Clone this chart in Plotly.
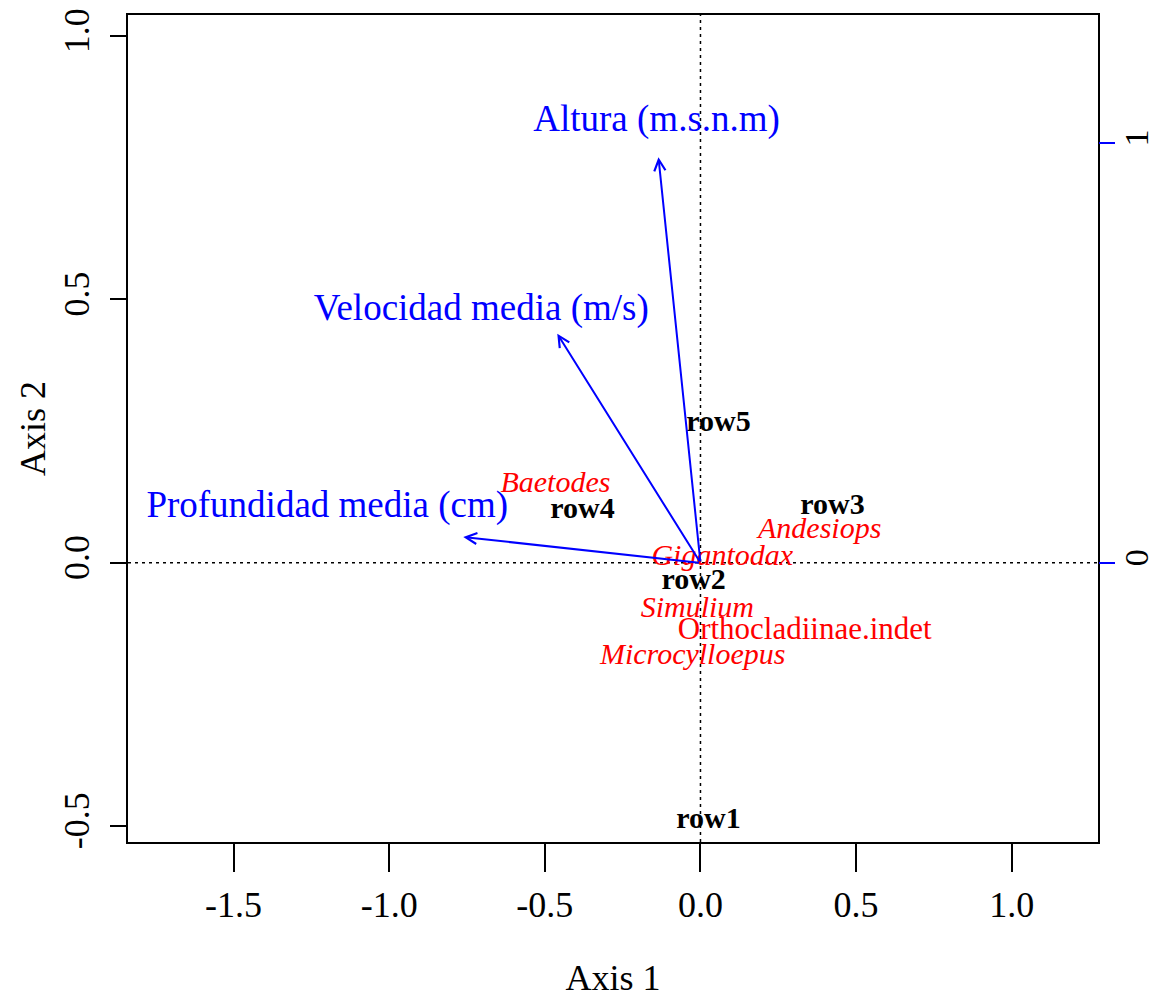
import plotly.graph_objects as go

# ---- data ----
site_names = ["row1", "row2", "row3", "row4", "row5"]
site_x = [0.026, -0.022, 0.424, -0.379, 0.058]
site_y = [-0.490, -0.036, 0.106, 0.099, 0.264]

species_names = ["Baetodes", "Andesiops", "Gigantodax", "Simulium",
                 "Orthocladiinae.indet", "Microcylloepus"]
species_x = [-0.466, 0.383, 0.070, -0.010, 0.335, -0.025]
species_y = [0.148, 0.061, 0.010, -0.088, -0.129, -0.177]
species_italic = [True, True, True, True, False, True]

env_names = ["Altura (m.s.n.m)", "Velocidad media (m/s)", "Profundidad media (cm)"]
env_x = [-0.135, -0.460, -0.762]
env_y = [0.770, 0.435, 0.049]
env_label_x = [-0.141, -0.704, -1.199]
env_label_y = [0.838, 0.479, 0.105]

x_ticks = [-1.5, -1.0, -0.5, 0.0, 0.5, 1.0]
y_ticks = [-0.5, 0.0, 0.5, 1.0]
y2_ticks = [0, 1]

x_range = [-1.839, 1.277]
y_range = [-0.530, 1.040]
right_axis_ratio = 526.7 / 419.7  # secondary units per primary unit

FONT = "Liberation Serif"
BLUE = "#0000FF"
RED = "#FF0000"

fig = go.Figure()

# sites (bold black)
fig.add_trace(go.Scatter(
    x=site_x, y=site_y, text=site_names, mode="text",
    textposition="middle center",
    textfont=dict(family=FONT, size=30, color="black", weight="bold"),
    showlegend=False, hoverinfo="skip"))

# species (red, italic except Orthocladiinae.indet)
for nm, sx, sy, it in zip(species_names, species_x, species_y, species_italic):
    fig.add_trace(go.Scatter(
        x=[sx], y=[sy], text=[nm], mode="text",
        textposition="middle center",
        textfont=dict(family=FONT, size=30 if it else 31, color=RED,
                      style="italic" if it else "normal"),
        showlegend=False, hoverinfo="skip"))

# environmental labels (blue)
fig.add_trace(go.Scatter(
    x=env_label_x, y=env_label_y, text=env_names, mode="text",
    textposition="middle center",
    textfont=dict(family=FONT, size=37, color=BLUE),
    showlegend=False, hoverinfo="skip"))

# dummy trace for the right axis
fig.add_trace(go.Scatter(x=[None], y=[None], yaxis="y2", showlegend=False,
                         hoverinfo="skip"))

# arrows
for ex, ey in zip(env_x, env_y):
    fig.add_annotation(x=ex, y=ey, ax=0, ay=0, xref="x", yref="y",
                       axref="x", ayref="y", text="", showarrow=True,
                       arrowhead=5, arrowsize=1.1, arrowwidth=2,
                       arrowcolor=BLUE, standoff=0, startstandoff=0)

# dotted zero lines
fig.add_shape(type="line", xref="x", yref="y domain", x0=0, x1=0, y0=0, y1=1,
              line=dict(color="black", width=1.5, dash="3px,4px"), layer="below")
fig.add_shape(type="line", xref="x domain", yref="y", x0=0, x1=1, y0=0, y1=0,
              line=dict(color="black", width=1.5, dash="3px,4px"), layer="below")

tickfont = dict(family=FONT, size=36, color="black")

fig.update_layout(
    width=1157, height=998,
    margin=dict(l=128, r=59, t=15, b=156, autoexpand=False),
    paper_bgcolor="white", plot_bgcolor="white",
    showlegend=False,
    xaxis=dict(range=x_range, tickvals=x_ticks, automargin=False,
               ticktext=[f"{v:.1f}" for v in x_ticks],
               ticks="outside", ticklen=28, tickwidth=1.5, tickcolor="black",
               showline=True, linewidth=2, linecolor="black", mirror=True,
               showgrid=False, zeroline=False, tickfont=tickfont,
               ticklabelstandoff=2,
               title=dict(text="Axis 1", font=tickfont, standoff=55)),
    yaxis=dict(range=y_range, tickvals=y_ticks, automargin=False,
               ticktext=[f"{v:.1f}" for v in y_ticks],
               ticks="outside", ticklen=16, tickwidth=1.5, tickcolor="black",
               tickangle=-90,
               showline=True, linewidth=2, linecolor="black", mirror=True,
               showgrid=False, zeroline=False, tickfont=tickfont,
               ticklabelstandoff=7,
               title=dict(text="Axis 2", font=tickfont, standoff=0)),
    yaxis2=dict(overlaying="y", side="right", automargin=False,
                range=[y_range[0] * right_axis_ratio, y_range[1] * right_axis_ratio],
                tickvals=y2_ticks, ticktext=[str(v) for v in y2_ticks],
                ticks="outside", ticklen=16, tickwidth=1.5, tickcolor=BLUE,
                tickangle=-90, showgrid=False, zeroline=False, showline=False,
                tickfont=dict(family=FONT, size=34, color="black"),
                ticklabelstandoff=-8),
)

fig.write_html("out.html", config={"displayModeBar": False},
               post_script="document.body.style.margin='0';")
